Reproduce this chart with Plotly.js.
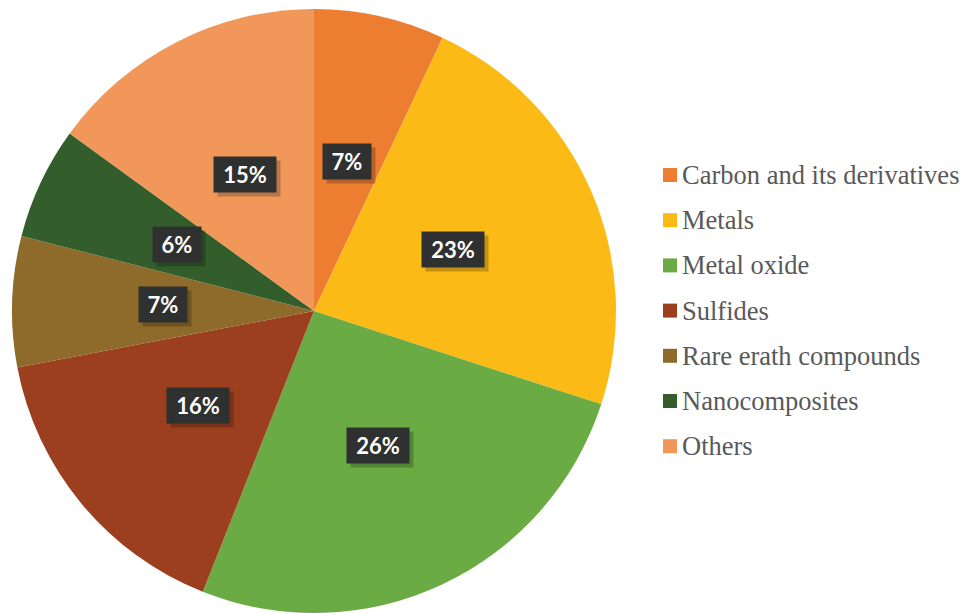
<!DOCTYPE html>
<html>
<head>
<meta charset="utf-8">
<script src="https://cdn.plot.ly/plotly-3.0.1.min.js"></script>
<style>html,body{margin:0;padding:0;background:#fff;}#chart{width:965px;height:613px;}</style>
</head>
<body>
<div id="chart"></div>
<script>
const categories = ["Carbon and its derivatives", "Metals", "Metal oxide", "Sulfides", "Rare erath compounds", "Nanocomposites", "Others"];
const shares = [7, 23, 26, 16, 7, 6, 15];
const colors = ["#ED7D31", "#FBBA16", "#6AAB44", "#9C3F1F", "#8E6B2A", "#335E2C", "#F1975A"];

const W = 965, H = 613;
const cx = 314, cy = 311, R = 302;
const dom = {x: [(cx - R) / W, (cx + R) / W], y: [(H - cy - R) / H, (H - cy + R) / H]};

const total = shares.reduce((a, b) => a + b, 0);
const annotations = [];
const shapes = [];
let acc = 0;
shares.forEach((v, i) => {
  const mid = (acc + v / 2) / total * 2 * Math.PI;
  acc += v;
  const rr = 0.5 * R;
  const px = cx + rr * Math.sin(mid);
  const py = cy - rr * Math.cos(mid) - 2;
  const txt = Math.round(v / total * 100) + "%";
  const w = 14 * txt.length + 12;
  const common = {xref: "paper", yref: "paper", x: px / W, y: 1 - py / H,
    xanchor: "center", yanchor: "middle", showarrow: false, width: w, height: 27, borderpad: 4,
    font: {family: "Lato, 'Open Sans', sans-serif", size: 22, color: "#ffffff", weight: 700}};
  annotations.push(Object.assign({}, common, {text: "", bgcolor: "rgba(0,0,0,0.22)", xshift: 4, yshift: -4}));
  annotations.push(Object.assign({}, common, {text: "<b>" + txt + "</b>", bgcolor: "#2f3030"}));
});

// manual legend
const legX = 663, legY0 = 175, legStep = 45.2, sq = 14;
categories.forEach((c, i) => {
  const yc = legY0 + i * legStep;
  shapes.push({type: "rect", xref: "paper", yref: "paper",
    x0: legX / W, x1: (legX + sq) / W, y0: 1 - (yc + sq / 2) / H, y1: 1 - (yc - sq / 2) / H,
    fillcolor: colors[i], line: {width: 0}});
  annotations.push({xref: "paper", yref: "paper", x: (legX + sq + 3) / W, y: 1 - yc / H,
    xanchor: "left", yanchor: "middle", showarrow: false, text: c,
    font: {family: "'Liberation Serif', 'Times New Roman', serif", size: 26.5, color: "#595959"}});
});

const data = [{
  type: "pie", labels: categories, values: shares, sort: false, direction: "clockwise", rotation: 0,
  marker: {colors: colors, line: {width: 0}}, textinfo: "none", hoverinfo: "label+percent",
  domain: dom, showlegend: false
}];

const layout = {
  width: W, height: H, margin: {l: 0, r: 0, t: 0, b: 0},
  paper_bgcolor: "#ffffff", plot_bgcolor: "#ffffff", showlegend: false,
  annotations: annotations, shapes: shapes
};
Plotly.newPlot("chart", data, layout, {displayModeBar: false, staticPlot: true});
</script>
</body>
</html>
